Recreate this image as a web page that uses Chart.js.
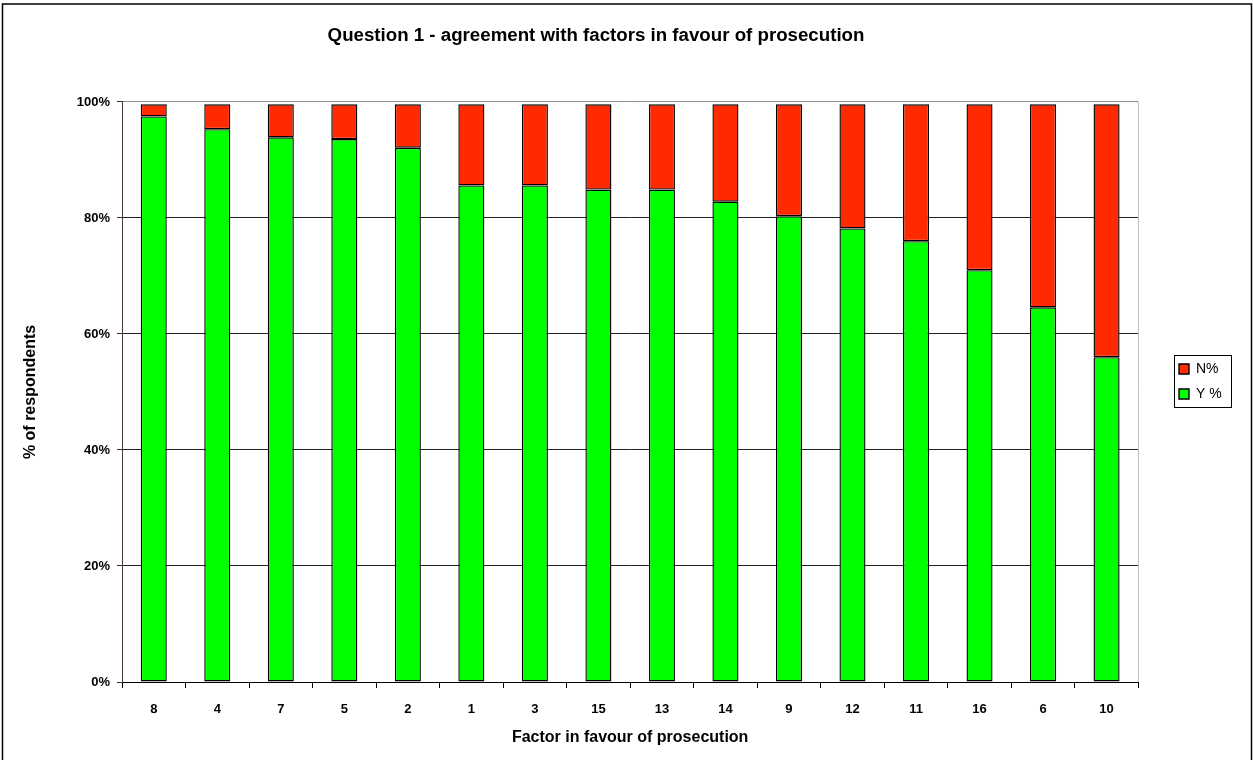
<!DOCTYPE html>
<html>
<head>
<meta charset="utf-8">
<title>Question 1 - agreement with factors in favour of prosecution</title>
<script src="https://cdn.jsdelivr.net/npm/chart.js@4.4.1/dist/chart.umd.min.js"></script>
<style>
  html, body { margin: 0; padding: 0; background: #fff; }
  #wrap { width: 1253px; height: 760px; position: relative; }
  canvas { display: block; }
</style>
</head>
<body>
<div id="wrap"><canvas id="chart" width="1253" height="760"></canvas></div>
<script>
// Factors, ordered by share of "yes" answers
const factors = ['8', '4', '7', '5', '2', '1', '3', '15', '13', '14', '9', '12', '11', '16', '6', '10'];
// Share of respondents agreeing (Y %) and disagreeing (N%)
const yesPct = [97.5, 95.3, 93.9, 93.6, 92.1, 85.6, 85.6, 84.9, 84.9, 82.8, 80.3, 78.2, 76.0, 71.0, 64.6, 56.0];
const noPct  = [2.1, 4.3, 5.7, 6.0, 7.5, 14.0, 14.0, 14.7, 14.7, 16.8, 19.3, 21.4, 23.6, 28.6, 35.0, 43.6];
// Value axis ticks
const yTicks = [0, 20, 40, 60, 80, 100];

const FONT = '"Liberation Sans", Arial, Helvetica, sans-serif';
const PAD_LEFT = 21;
const PAD_BOTTOM = 13;

// White background, outer frame, plot frame and legend frame
const framePlugin = {
  id: 'frames',
  beforeDraw(chart) {
    const ctx = chart.ctx;
    ctx.save();
    ctx.fillStyle = '#fff';
    ctx.fillRect(0, 0, chart.width, chart.height);
    ctx.strokeStyle = '#000';
    ctx.lineWidth = 1.5;
    ctx.strokeRect(2.5, 4, chart.width - 4, chart.height + 20);
    ctx.restore();
  },
  afterDraw(chart) {
    const ctx = chart.ctx;
    const a = chart.chartArea;
    ctx.save();
    ctx.strokeStyle = '#c0c0c0';
    ctx.lineWidth = 1;
    ctx.beginPath();
    ctx.moveTo(Math.round(a.right) + 0.5, a.top);
    ctx.lineTo(Math.round(a.right) + 0.5, a.bottom);
    ctx.stroke();
    const boxes = chart.legend && chart.legend.legendHitBoxes;
    if (boxes && boxes.length) {
      let x0 = Infinity, y0 = Infinity, x1 = -Infinity, y1 = -Infinity;
      boxes.forEach(b => {
        x0 = Math.min(x0, b.left); y0 = Math.min(y0, b.top);
        x1 = Math.max(x1, b.left + b.width); y1 = Math.max(y1, b.top + b.height);
      });
      ctx.strokeStyle = '#000';
      ctx.strokeRect(Math.round(x0 - 5) + 0.5, Math.round(y0 - 7) + 0.5,
                     Math.round(x1 - x0 + 14), Math.round(y1 - y0 + 13));
    }
    ctx.restore();
  },
  afterLayout(chart) {
    // centre the heading slightly left of the canvas middle
    const t = chart.titleBlock;
    if (t) { t.left = 0; t.right = 1192; }
    // keep the legend near the right edge, apart from the plot
    const lg = chart.legend;
    if (lg) {
      const dx = 1168 - lg.left;
      lg.left += dx; lg.right += dx;
      lg.top += 8; lg.bottom += 8;
    }
  }
};

new Chart(document.getElementById('chart'), {
  type: 'bar',
  data: {
    labels: factors,
    datasets: [
      {
        label: 'Y %',
        data: yesPct,
        backgroundColor: '#00ff00',
        borderColor: '#000',
        borderWidth: 1.4,
        borderSkipped: false,
        categoryPercentage: 1,
        barPercentage: 0.41
      },
      {
        label: 'N%',
        data: noPct,
        backgroundColor: '#ff2a00',
        borderColor: '#000',
        borderWidth: 1.4,
        borderSkipped: false,
        categoryPercentage: 1,
        barPercentage: 0.41
      }
    ]
  },
  options: {
    responsive: false,
    animation: false,
    devicePixelRatio: 1,
    layout: { padding: { left: PAD_LEFT, right: 51, top: 0, bottom: PAD_BOTTOM } },
    plugins: {
      title: {
        display: true,
        text: 'Question 1 - agreement with factors in favour of prosecution',
        color: '#000',
        font: { family: FONT, size: 18.7, weight: 'bold' },
        padding: { top: 25, bottom: 54.5 }
      },
      legend: {
        position: 'right',
        reverse: true,
        labels: {
          color: '#000',
          boxWidth: 10,
          boxHeight: 10,
          padding: 11,
          font: { family: FONT, size: 14 }
        }
      },
      tooltip: { enabled: false }
    },
    scales: {
      x: {
        stacked: true,
        grid: {
          drawOnChartArea: false,
          drawTicks: true,
          tickLength: 6,
          color: '#000',
          offset: true
        },
        border: { color: '#000' },
        ticks: {
          color: '#000',
          padding: 14,
          font: { family: FONT, size: 13, weight: 'bold' }
        },
        title: {
          display: true,
          text: 'Factor in favour of prosecution',
          color: '#000',
          font: { family: FONT, size: 16, weight: 'bold' },
          padding: { top: 4, bottom: 0 }
        },
        afterFit(scale) { scale.height = 78 - PAD_BOTTOM; }
      },
      y: {
        stacked: true,
        min: 0,
        max: 100,
        afterBuildTicks(scale) { scale.ticks = yTicks.map(v => ({ value: v })); },
        grid: {
          color: ctx => (ctx.tick && ctx.tick.value === 100) ? '#8c8c8c' : '#222',
          tickColor: '#333',
          tickLength: 5
        },
        border: { color: '#4a3838' },
        ticks: {
          color: '#000',
          padding: 7,
          font: { family: FONT, size: 13, weight: 'bold' },
          callback: v => v + '%'
        },
        title: {
          display: true,
          text: '% of respondents',
          color: '#000',
          font: { family: FONT, size: 16, weight: 'bold' },
          padding: { top: 0, bottom: 0 }
        },
        afterFit(scale) { scale.width = 122 - PAD_LEFT; }
      }
    }
  },
  plugins: [framePlugin]
});
</script>
</body>
</html>
